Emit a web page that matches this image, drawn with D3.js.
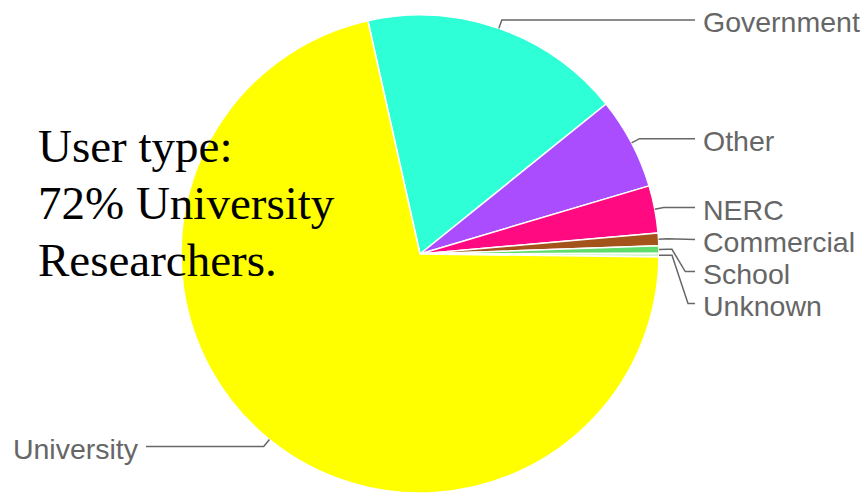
<!DOCTYPE html>
<html>
<head>
<meta charset="utf-8">
<script src="https://cdn.jsdelivr.net/npm/d3@7"></script>
<style>
  html, body { margin: 0; padding: 0; background: #fff; }
  svg { display: block; }
</style>
</head>
<body>
<svg id="chart" width="867" height="494"></svg>
<script>
// User type breakdown (percent of users)
const categories = ["Government", "Other", "NERC", "Commercial", "School", "Unknown", "University"];
const shares = [17.7, 6.2, 3.2, 0.85, 0.5, 0.25, 71.3];
const sliceColors = ["#2fffd6", "#a94dff", "#ff0a80", "#a4541a", "#5fdc6a", "#d2f5cf", "#ffff00"];
const headline = ["User type:", "72% University", "Researchers."];

const W = 867, H = 494;
const cx = 420, cy = 254, R = 239;
const startDeg = -12.6;

const svg = d3.select("#chart");
const g = svg.append("g").attr("transform", `translate(${cx},${cy})`);

const data = categories.map((c, i) => ({ name: c, value: shares[i], color: sliceColors[i] }));

const pie = d3.pie()
  .sort(null)
  .value(d => d.value)
  .startAngle(startDeg * Math.PI / 180)
  .endAngle((startDeg + 360) * Math.PI / 180);

const arcs = pie(data);
const arc = d3.arc().innerRadius(0).outerRadius(R);

g.selectAll("path.slice")
  .data(arcs)
  .join("path")
  .attr("class", "slice")
  .attr("d", arc)
  .attr("fill", d => d.data.color)
  .attr("stroke", "#ffffff")
  .attr("stroke-width", 1.5)
  .attr("stroke-linejoin", "round");

// Leader lines and labels
const elbow = 9, spacing = 32;
const rightLineX = 695 - cx, leftLineX = 146 - cx;
const pt = (a, r) => [r * Math.sin(a), -r * Math.cos(a)];

const labels = arcs.map(d => {
  const mid = (d.startAngle + d.endAngle) / 2;
  const p0 = pt(mid, R);
  const p1 = pt(mid, R + elbow);
  return { name: d.data.name, mid, p0, p1, y: p1[1], right: Math.sin(mid) > 0 };
});

// push overlapping labels downward on each side
[true, false].forEach(side => {
  const s = labels.filter(l => l.right === side).sort((a, b) => a.y - b.y);
  for (let i = 1; i < s.length; i++) {
    s[i].y = Math.max(s[i].y, s[i - 1].y + spacing);
  }
});

const lineGen = d3.line();
labels.forEach(l => {
  const pts = [l.p0, l.p1];
  const dy = l.y - l.p1[1];
  const dir = l.right ? 1 : -1;
  if (Math.abs(dy) > 1) {
    pts.push([l.p1[0] + dir * 4, l.p1[1]]);
    pts.push([l.p1[0] + dir * (4 + Math.min(Math.abs(dy) * 0.6, 16)), l.y]);
  }
  pts.push([l.right ? rightLineX : leftLineX, l.y]);
  g.append("path")
    .attr("d", lineGen(pts))
    .attr("fill", "none")
    .attr("stroke", "#676767")
    .attr("stroke-width", 1.5);

  g.append("text")
    .attr("x", l.right ? rightLineX + 8 : leftLineX - 8)
    .attr("y", l.y + 12)
    .attr("text-anchor", l.right ? "start" : "end")
    .attr("font-family", "'Liberation Sans', Arial, Helvetica, sans-serif")
    .attr("font-size", 28.5)
    .attr("fill", "#666666")
    .text(l.name);
});

// Headline annotation
const head = svg.append("text")
  .attr("font-family", "'Liberation Serif', 'Times New Roman', Times, serif")
  .attr("font-size", 47)
  .attr("fill", "#000");
headline.forEach((t, i) => {
  head.append("tspan")
    .attr("x", 38)
    .attr("y", 162 + i * 57)
    .text(t);
});
</script>
</body>
</html>
